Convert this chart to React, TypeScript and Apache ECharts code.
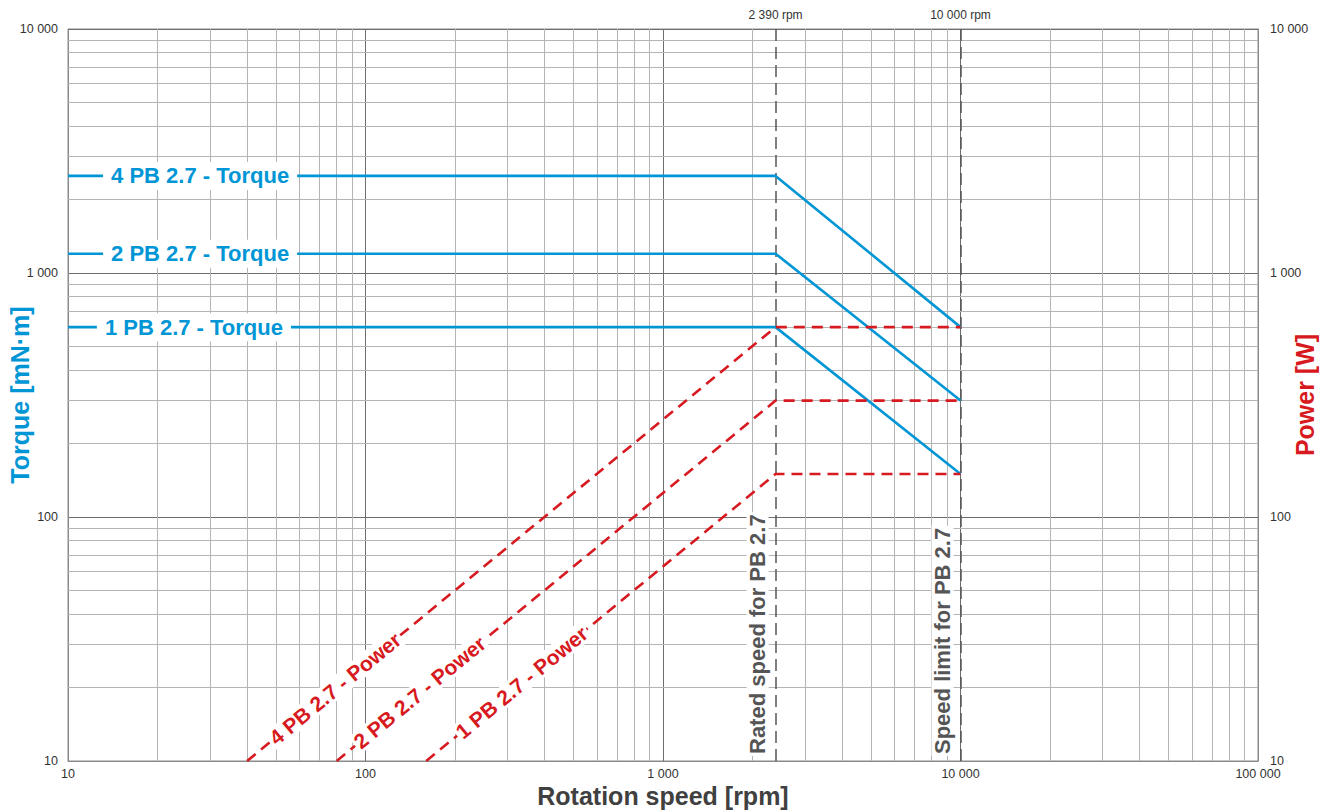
import React, { useEffect, useRef } from "react";
import * as echarts from "echarts";

// ---- data ----
const motorNames = ["4 PB 2.7", "2 PB 2.7", "1 PB 2.7"];
const torqueSpeed = [10, 2390, 10000];
const torque4PB = [2500, 2500, 600];
const torque2PB = [1200, 1200, 300];
const torque1PB = [600, 600, 150];
const powerSpeed4PB = [40, 2390, 10000];
const powerSpeed2PB = [80, 2390, 10000];
const powerSpeed1PB = [160, 2390, 10000];
const power4PB = [10, 600, 600];
const power2PB = [10, 300, 300];
const power1PB = [10, 150, 150];
const ratedSpeed = 2390;
const speedLimit = 10000;
const speedDecades = [10, 100, 1000, 10000];
const valueDecades = [10, 100, 1000];
const minorSteps = [2, 3, 4, 5, 6, 7, 8, 9];

const BLUE = "#0096d6";
const RED = "#d71920";
const GRAY = "#555555";
const FONT = "'Liberation Sans', Arial, Helvetica, sans-serif";
const TICKFONT = "'Liberation Sans Narrow', 'Liberation Sans', Arial, sans-serif";

const fmt = (v: number) =>
  String(Math.round(v)).replace(/\B(?=(\d{3})+(?!\d))/g, " ");

const pairs = (xs: number[], ys: number[]) => xs.map((x, i) => [x, ys[i]]);

function buildOption() {
  const minorX = speedDecades.flatMap((d) => minorSteps.map((s) => d * s));
  const minorY = valueDecades.flatMap((d) => minorSteps.map((s) => d * s));

  const torqueData = [torque4PB, torque2PB, torque1PB];
  const powerSpeeds = [powerSpeed4PB, powerSpeed2PB, powerSpeed1PB];
  const powerData = [power4PB, power2PB, power1PB];

  // label anchors (layout only)
  const torqueLabelX = [27.8, 27.8, 26.5];
  const powerLabelAt = [
    [79, 19.8],
    [152, 19.1],
    [335, 21],
  ];

  const torqueSeries = torqueData.map((t, i) => ({
    type: "line",
    name: motorNames[i] + " - Torque",
    data: pairs(torqueSpeed, t),
    symbol: "none",
    z: 5,
    lineStyle: { color: BLUE, width: 2.6 },
    markPoint: {
      symbol: "circle",
      symbolSize: 0,
      silent: true,
      z: 20,
      data: [
        {
          coord: [torqueLabelX[i], t[0]],
          label: {
            show: true,
            position: "inside",
            formatter: motorNames[i] + " - Torque",
            color: BLUE,
            fontFamily: FONT,
            fontWeight: "bold",
            fontSize: 22,
            backgroundColor: "#ffffff",
            padding: [3, 8],
          },
        },
      ],
    },
  }));

  const powerSeries = powerData.map((p, i) => ({
    type: "line",
    name: motorNames[i] + " - Power",
    data: pairs(powerSpeeds[i], p),
    symbol: "none",
    z: 6,
    lineStyle: { color: RED, width: 2.6, type: [11, 7] },
    markPoint: {
      symbol: "circle",
      symbolSize: 0,
      silent: true,
      z: 20,
      data: [
        {
          coord: powerLabelAt[i],
          label: {
            show: true,
            position: "inside",
            formatter: motorNames[i] + " - Power",
            color: RED,
            fontFamily: FONT,
            fontWeight: "bold",
            fontSize: 21,
            rotate: 39.4,
            backgroundColor: "#ffffff",
            padding: [0, 2],
          },
        },
      ],
    },
  }));

  const minorGridSeries = {
    type: "line",
    data: [],
    z: 1,
    silent: true,
    markLine: {
      silent: true,
      z: 1,
      symbol: ["none", "none"],
      label: { show: false },
      emphasis: { disabled: true },
      lineStyle: { color: "#b4b4b4", width: 1, type: "solid" },
      data: [
        ...minorX.map((v) => ({ xAxis: v })),
        ...minorY.map((v) => ({ yAxis: v })),
      ],
    },
  };

  const vLabel = (text: string) => ({
    show: true,
    position: "insideStartTop",
    formatter: text,
    color: GRAY,
    fontFamily: FONT,
    fontWeight: "bold",
    fontSize: 22,
    backgroundColor: "#ffffff",
    padding: [0, 2],
    distance: [5, 7],
  });
  const topLabel = (text: string) => ({
    show: true,
    position: "end",
    formatter: text,
    color: "#333333",
    fontFamily: TICKFONT,
    fontSize: 12,
    distance: 8,
  });
  const hidden = { color: "rgba(0,0,0,0)", width: 0 };

  const speedLineSeries = {
    type: "line",
    data: [],
    z: 3,
    silent: true,
    markLine: {
      silent: true,
      z: 3,
      symbol: ["none", "none"],
      emphasis: { disabled: true },
      lineStyle: { color: GRAY, width: 1.5, type: [12, 6] },
      data: [
        { xAxis: ratedSpeed, label: topLabel(fmt(ratedSpeed) + " rpm") },
        { xAxis: speedLimit, label: topLabel(fmt(speedLimit) + " rpm") },
        {
          xAxis: ratedSpeed,
          lineStyle: hidden,
          label: vLabel("Rated speed for PB 2.7"),
        },
        {
          xAxis: speedLimit,
          lineStyle: hidden,
          label: vLabel("Speed limit for PB 2.7"),
        },
      ],
    },
  };

  const tickLabel = {
    color: "#333333",
    fontFamily: TICKFONT,
    fontSize: 12.5,
    formatter: (v: number) => fmt(v),
  };

  return {
    animation: false,
    backgroundColor: "#ffffff",
    grid: {
      left: 68,
      right: 72,
      top: 29,
      bottom: 51,
      outerBoundsMode: "none",
      containLabel: false,
      show: true,
      borderColor: "#8a8a8a",
      borderWidth: 1,
    },
    xAxis: {
      type: "log",
      logBase: 10,
      min: 10,
      max: 100000,
      name: "Rotation speed [rpm]",
      nameLocation: "middle",
      nameGap: 22,
      nameMoveOverlap: false,
      nameTextStyle: {
        color: "#404040",
        fontFamily: FONT,
        fontWeight: "bold",
        fontSize: 25,
      },
      axisLine: { lineStyle: { color: "#8a8a8a" } },
      axisTick: { show: false },
      axisLabel: { ...tickLabel, margin: 6 },
      splitLine: { show: true, lineStyle: { color: "#6e6e6e", width: 1 } },
    },
    yAxis: [
      {
        type: "log",
        logBase: 10,
        min: 10,
        max: 10000,
        position: "left",
        name: "Torque [mN·m]",
        nameLocation: "middle",
        nameRotate: 90,
        nameGap: 36,
        nameMoveOverlap: false,
        nameTextStyle: {
          color: BLUE,
          fontFamily: FONT,
          fontWeight: "bold",
          fontSize: 25,
        },
        axisLine: { show: true, lineStyle: { color: "#8a8a8a" } },
        axisTick: { show: false },
        axisLabel: { ...tickLabel, margin: 10 },
        splitLine: { show: true, lineStyle: { color: "#6e6e6e", width: 1 } },
      },
      {
        type: "log",
        logBase: 10,
        min: 10,
        max: 10000,
        position: "right",
        name: "Power [W]",
        nameLocation: "middle",
        nameRotate: 90,
        nameGap: 34,
        nameMoveOverlap: false,
        nameTextStyle: {
          color: RED,
          fontFamily: FONT,
          fontWeight: "bold",
          fontSize: 25,
        },
        axisLine: { show: true, lineStyle: { color: "#8a8a8a" } },
        axisTick: { show: false },
        axisLabel: { ...tickLabel, margin: 12 },
        splitLine: { show: false },
      },
    ],
    series: [minorGridSeries, speedLineSeries, ...torqueSeries, ...powerSeries],
  };
}

export default function App() {
  const ref = useRef<HTMLDivElement>(null);
  useEffect(() => {
    document.body.style.margin = "0";
    const chart = echarts.init(ref.current as HTMLDivElement, null, {
      renderer: "svg",
    });
    chart.setOption(buildOption() as any);
    return () => chart.dispose();
  }, []);
  return <div ref={ref} style={{ width: 1330, height: 812 }} />;
}
